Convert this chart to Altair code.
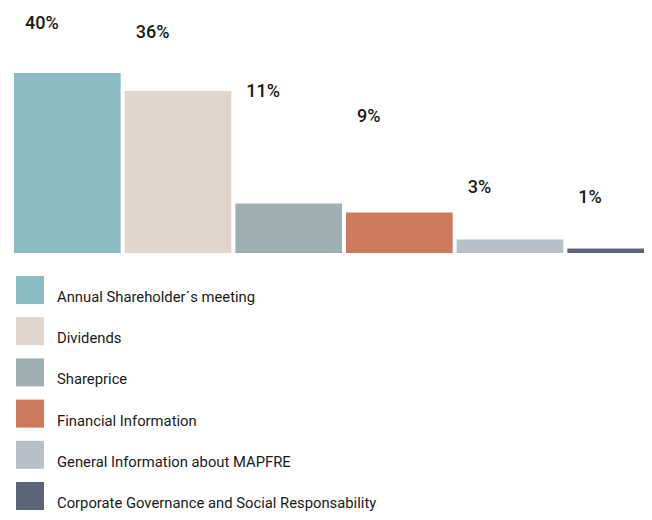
import altair as alt
import pandas as pd

categories = [
    "Annual Shareholder´s meeting",
    "Dividends",
    "Shareprice",
    "Financial Information",
    "General Information about MAPFRE",
    "Corporate Governance and Social Responsability",
]
values = [40, 36, 11, 9, 3, 1]
labels = ["40%", "36%", "11%", "9%", "3%", "1%"]
# height (in % units) where each percentage label sits in the original
label_level = [49.8, 47.8, 34.7, 29.1, 13.3, 11.1]
colors = ["#8BBCC1", "#E1D4CA", "#9EAFB3", "#CD795D", "#B7C0C8", "#5C6577"]

df = pd.DataFrame({"cat": categories, "value": values, "label": labels, "lev": label_level})

x_scale = alt.Scale(domain=categories, range=[0, 660], paddingInner=4 / 110, paddingOuter=0)
y_scale = alt.Scale(domain=[0, 54.44], nice=False, zero=True)

bars = alt.Chart(df).mark_bar(clip=True, strokeWidth=0).encode(
    x=alt.X("cat:N", scale=x_scale, axis=None, sort=categories),
    y=alt.Y("value:Q", scale=y_scale, axis=None),
    color=alt.Color(
        "cat:N",
        scale=alt.Scale(domain=categories, range=colors),
        sort=categories,
        legend=alt.Legend(
            title=None,
            orient="none",
            legendX=2,
            legendY=268,
            symbolType="square",
            symbolSize=784,
            symbolStrokeWidth=0,
            symbolOpacity=1,
            rowPadding=12.2,
            labelOffset=13,
            labelFontSize=14.8,
            labelFont="Roboto",
            labelColor="#1a1a1a",
            labelBaseline="top",
            labelLimit=0,
            padding=0,
        ),
    ),
)

text = alt.Chart(df).mark_text(
    align="left", baseline="alphabetic", dx=11, fontSize=18, font="Roboto",
    fontWeight=500, color="#1a1a1a",
).encode(
    x=alt.X("cat:N", scale=x_scale, axis=None, sort=categories, bandPosition=0),
    y=alt.Y("lev:Q", scale=y_scale, axis=None),
    text="label:N",
)

chart = (
    alt.layer(bars, text)
    .properties(
        width=630,
        height=245,
        autosize=alt.AutoSizeParams(type="none"),
        padding={"left": 6, "top": 0, "right": 0, "bottom": 259},
        background="white",
    )
    .configure_view(stroke=None)
)

chart.save("out.html", embed_options={"renderer": "svg", "actions": False})
